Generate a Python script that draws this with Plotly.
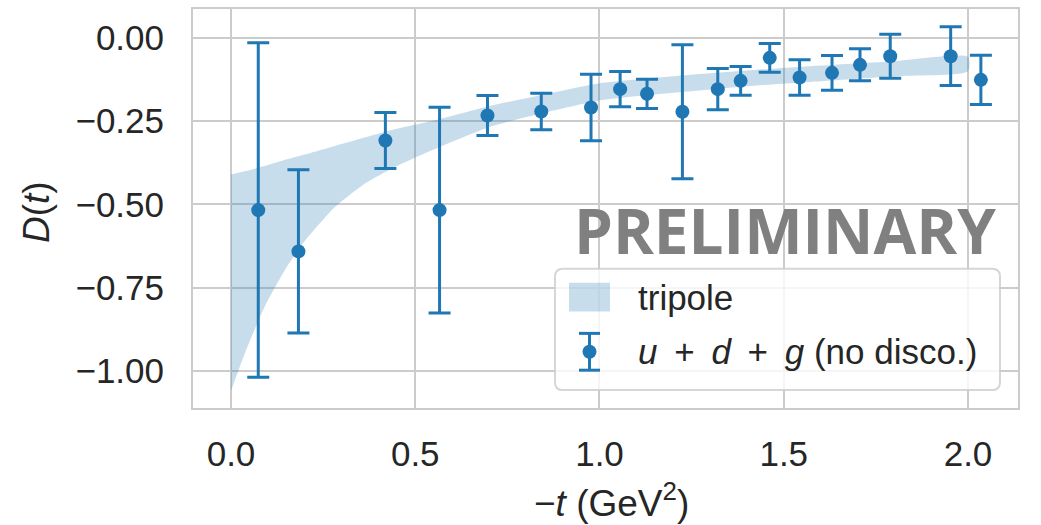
import plotly.graph_objects as go

# ---------------- data ----------------
t_vals = [0.074, 0.183, 0.419, 0.566, 0.696, 0.842, 0.977, 1.056, 1.129, 1.225,
          1.321, 1.383, 1.462, 1.543, 1.631, 1.707, 1.789, 1.953, 2.035]
D_vals = [-0.517, -0.641, -0.308, -0.517, -0.233, -0.221, -0.209, -0.154, -0.168, -0.222,
          -0.154, -0.129, -0.060, -0.119, -0.105, -0.081, -0.055, -0.055, -0.126]
D_errs = [0.502, 0.245, 0.084, 0.309, 0.060, 0.055, 0.100, 0.053, 0.044, 0.201,
          0.062, 0.043, 0.043, 0.053, 0.052, 0.048, 0.066, 0.088, 0.074]

band_t = [0.0, 0.04, 0.09, 0.15, 0.20, 0.28, 0.36, 0.45, 0.55, 0.70,
          0.85, 1.00, 1.20, 1.40, 1.60, 1.80, 2.00]
band_upper = [-0.41, -0.40, -0.385, -0.365, -0.35, -0.325, -0.30, -0.273, -0.248, -0.205,
              -0.17, -0.136, -0.115, -0.098, -0.083, -0.07, -0.057]
band_lower = [-1.06, -0.94, -0.81, -0.69, -0.61, -0.51, -0.44, -0.385, -0.335, -0.268,
              -0.225, -0.188, -0.165, -0.145, -0.13, -0.115, -0.100]

x_ticks = [0.0, 0.5, 1.0, 1.5, 2.0]
x_ticklabels = ["0.0", "0.5", "1.0", "1.5", "2.0"]
y_ticks = [-1.0, -0.75, -0.5, -0.25, 0.0]
y_ticklabels = ["\u22121.00", "\u22120.75", "\u22120.50", "\u22120.25", "0.00"]

SP = " \u2009"
series_name = f"<i>u</i>{SP}+{SP}<i>d</i>{SP}+{SP}<i>g</i> (no disco.)"
band_name = "tripole"

# ---------------- style ----------------
BLUE = "#1f77b4"
BAND = "rgba(31,119,180,0.25)"
GRID = "#cccccc"
TXT = "#262626"
FONT = "Liberation Sans, Arial, sans-serif"
W, H = 1041, 525
ML, MR, MT, MB = 193, 23, 7, 117
PW, PH = W - ML - MR, H - MT - MB


def px_x(p):
    return (p - ML) / PW


def px_y(p):
    return (MT + PH - p) / PH


fig = go.Figure()

# band (closed polygon)
fig.add_trace(go.Scatter(
    x=band_t + band_t[::-1],
    y=band_upper + band_lower[::-1],
    fill="toself", fillcolor=BAND, line=dict(width=0, shape="spline", smoothing=0.6),
    mode="lines", hoverinfo="skip", showlegend=False, name=band_name))

# data points with error bars
fig.add_trace(go.Scatter(
    x=t_vals, y=D_vals, mode="markers",
    marker=dict(color=BLUE, size=14),
    error_y=dict(type="data", array=D_errs, visible=True, color=BLUE, thickness=3, width=11),
    showlegend=False, name="u+d+g"))

axis_common = dict(
    showgrid=True, gridcolor=GRID, gridwidth=1.8,
    showline=True, linecolor=GRID, linewidth=2, mirror=True,
    zeroline=False, ticks="outside", tickcolor="rgba(0,0,0,0)",
    tickfont=dict(family=FONT, size=35, color=TXT),
)

fig.update_xaxes(range=[-0.1031, 2.1357], tickmode="array", tickvals=x_ticks,
                 ticktext=x_ticklabels, ticklen=14, **axis_common)
fig.update_yaxes(range=[-1.111, 0.0866], tickmode="array", tickvals=y_ticks,
                 ticktext=y_ticklabels, ticklen=20, **axis_common)

shapes = []
annotations = []

# axis titles
annotations.append(dict(text="\u2212<i>t</i> (GeV<sup>2</sup>)", xref="paper", yref="paper",
                        x=px_x(611), y=px_y(501), xanchor="center", yanchor="middle",
                        showarrow=False, font=dict(family=FONT, size=37, color=TXT)))
annotations.append(dict(text="<i>D</i>(<i>t</i>)", xref="paper", yref="paper",
                        x=px_x(37), y=px_y(211), xanchor="center", yanchor="middle",
                        textangle=-90, showarrow=False,
                        font=dict(family=FONT, size=37, color=TXT)))

# PRELIMINARY watermark
annotations.append(dict(text="<b>PRELIMINARY</b>", xref="paper", yref="paper",
                        x=px_x(785), y=px_y(229), xanchor="center", yanchor="middle",
                        showarrow=False, font=dict(family="Open Sans, sans-serif", size=62,
                                                   color="#808080")))

# legend box (rounded)
x0, x1, y0, y1, r = 555, 1000, 268, 390, 8
path = (f"M {px_x(x0 + r)},{px_y(y0)} L {px_x(x1 - r)},{px_y(y0)} "
        f"Q {px_x(x1)},{px_y(y0)} {px_x(x1)},{px_y(y0 + r)} "
        f"L {px_x(x1)},{px_y(y1 - r)} Q {px_x(x1)},{px_y(y1)} {px_x(x1 - r)},{px_y(y1)} "
        f"L {px_x(x0 + r)},{px_y(y1)} Q {px_x(x0)},{px_y(y1)} {px_x(x0)},{px_y(y1 - r)} "
        f"L {px_x(x0)},{px_y(y0 + r)} Q {px_x(x0)},{px_y(y0)} {px_x(x0 + r)},{px_y(y0)} Z")
shapes.append(dict(type="path", path=path, xref="paper", yref="paper",
                   fillcolor="rgba(255,255,255,0.8)", line=dict(color="rgba(204,204,204,0.8)", width=2),
                   layer="above"))
# legend patch
shapes.append(dict(type="rect", xref="paper", yref="paper",
                   x0=px_x(569), x1=px_x(610), y0=px_y(282), y1=px_y(311),
                   fillcolor=BAND, line=dict(width=0), layer="above"))
# legend error-bar glyph
gx = 589.5
shapes.append(dict(type="line", xref="paper", yref="paper", x0=px_x(gx), x1=px_x(gx),
                   y0=px_y(333), y1=px_y(370), line=dict(color=BLUE, width=3), layer="above"))
for cy in (333, 370):
    shapes.append(dict(type="line", xref="paper", yref="paper", x0=px_x(gx - 10.5), x1=px_x(gx + 10.5),
                       y0=px_y(cy), y1=px_y(cy), line=dict(color=BLUE, width=3), layer="above"))
shapes.append(dict(type="circle", xref="paper", yref="paper", x0=px_x(gx - 7), x1=px_x(gx + 7),
                   y0=px_y(351.5 - 7), y1=px_y(351.5 + 7), fillcolor=BLUE, line=dict(width=0),
                   layer="above"))

annotations.append(dict(text=band_name, xref="paper", yref="paper", x=px_x(636), y=px_y(297),
                        xanchor="left", yanchor="middle", showarrow=False,
                        font=dict(family=FONT, size=35, color=TXT)))
annotations.append(dict(text=series_name, xref="paper", yref="paper", x=px_x(636), y=px_y(351),
                        xanchor="left", yanchor="middle", showarrow=False,
                        font=dict(family=FONT, size=35, color=TXT)))

fig.update_layout(
    width=W, height=H,
    margin=dict(l=ML, r=MR, t=MT, b=MB, pad=0),
    paper_bgcolor="white", plot_bgcolor="white",
    showlegend=False, shapes=shapes, annotations=annotations,
    font=dict(family=FONT, color=TXT),
)

fig.write_html("out.html", config={"displayModeBar": False},
               post_script="document.body.style.margin='0';")
